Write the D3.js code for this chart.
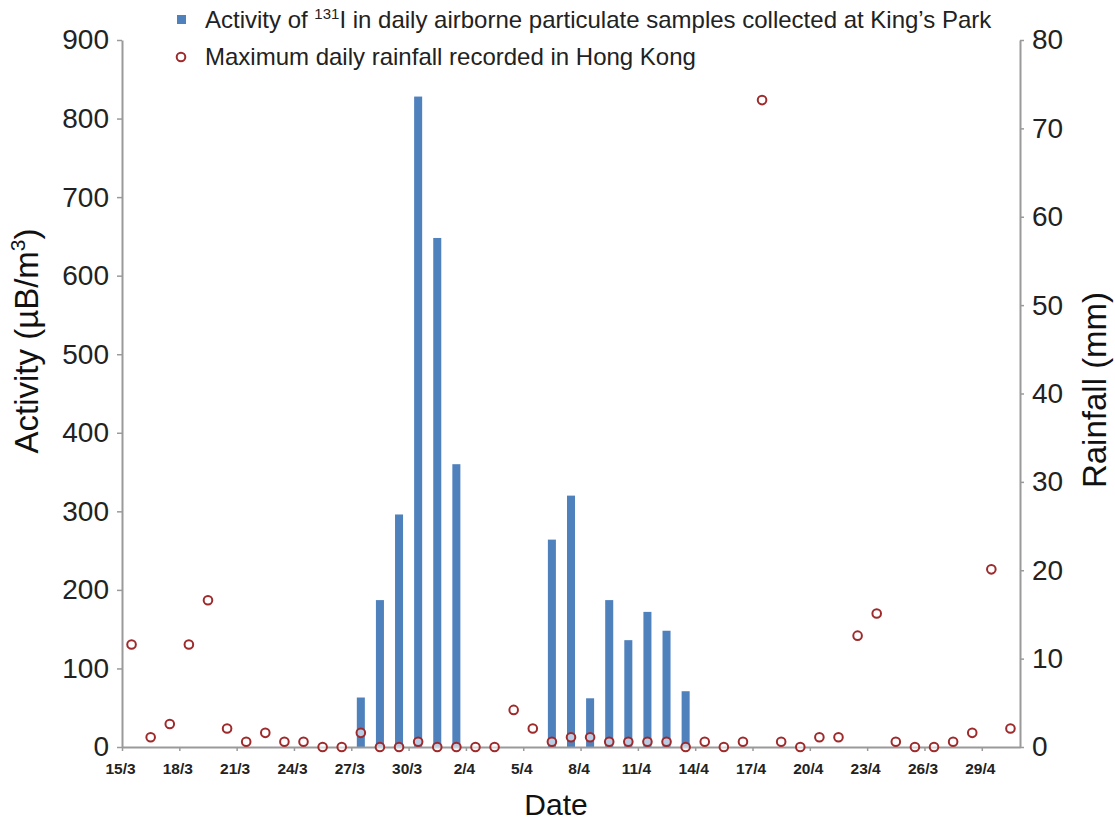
<!DOCTYPE html>
<html>
<head>
<meta charset="utf-8">
<script src="https://cdn.jsdelivr.net/npm/d3@7/dist/d3.min.js"></script>
<style>
  html, body { margin: 0; padding: 0; background: #fff; }
  svg { display: block; font-family: "Liberation Sans", Arial, sans-serif; }
</style>
</head>
<body>
<svg id="chart" width="1115" height="820"></svg>
<script>
// ---- data ----
const dates = ["15/3","16/3","17/3","18/3","19/3","20/3","21/3","22/3","23/3","24/3","25/3","26/3","27/3","28/3","29/3","30/3","31/3",
  "1/4","2/4","3/4","4/4","5/4","6/4","7/4","8/4","9/4","10/4","11/4","12/4","13/4","14/4","15/4","16/4","17/4","18/4","19/4","20/4",
  "21/4","22/4","23/4","24/4","25/4","26/4","27/4","28/4","29/4","30/4"];
const activity = [0,0,0,0,0,0,0,0,0,0,0,0,63,187,296,828,648,
  360,0,0,0,0,264,320,62,187,136,172,148,71,0,0,0,0,0,0,0,
  0,0,0,0,0,0,0,0,0,0];
const rainfall = [11.6,1.1,2.6,11.6,16.6,2.1,0.6,1.6,0.6,0.6,0,0,1.6,0,0,0.6,0,
  0,0,0,4.2,2.1,0.6,1.1,1.1,0.6,0.6,0.6,0.6,0,0.6,0,0.6,73.2,0.6,0,1.1,
  1.1,12.6,15.1,0.6,0,0,0.6,1.6,20.1,2.1];
const tickLabels = ["15/3","18/3","21/3","24/3","27/3","30/3","2/4","5/4","8/4","11/4","14/4","17/4","20/4","23/4","26/3","29/4"];
const leftTicks = [0,100,200,300,400,500,600,700,800,900];
const rightTicks = [0,10,20,30,40,50,60,70,80];

// ---- layout ----
const svg = d3.select("#chart");
const x0 = 122, x1 = 1020, yTop = 40, yBot = 747;
const axisColor = "#9a9a9a";
const barColor = "#4f81bd";
const dotColor = "#9e2a2b";
const ff = "Liberation Sans, Arial, sans-serif";

const x = d3.scaleBand().domain(dates).range([x0, x1]).paddingInner(0.58).paddingOuter(0.29);
const xIdx = d3.scaleLinear().domain([0, dates.length]).range([x0, x1]);
const yL = d3.scaleLinear().domain([0, 900]).range([yBot, yTop]);
const yR = d3.scaleLinear().domain([0, 80]).range([yBot, yTop]);

// bars
svg.append("g").selectAll("rect").data(dates.map((d, i) => ({d, v: activity[i]})).filter(o => o.v > 0))
  .join("rect")
  .attr("x", o => x(o.d))
  .attr("width", x.bandwidth())
  .attr("y", o => yL(o.v))
  .attr("height", o => yBot - yL(o.v))
  .attr("fill", barColor);

// left axis
const gL = svg.append("g").attr("transform", `translate(${x0},0)`)
  .call(d3.axisLeft(yL).tickValues(leftTicks).tickSize(5).tickSizeOuter(0).tickPadding(8));
gL.select(".domain").attr("stroke", axisColor).attr("stroke-width", 2);
gL.selectAll(".tick line").attr("stroke", axisColor).attr("stroke-width", 1.5);
gL.selectAll(".tick text").attr("font-size", 28).attr("fill", "#222").attr("font-family", ff);

// right axis
const gR = svg.append("g").attr("transform", `translate(${x1},0)`)
  .call(d3.axisRight(yR).tickValues(rightTicks).tickSize(4).tickSizeOuter(0).tickPadding(8));
gR.select(".domain").attr("stroke", axisColor).attr("stroke-width", 2);
gR.selectAll(".tick line").attr("stroke", axisColor).attr("stroke-width", 1.5);
gR.selectAll(".tick text").attr("font-size", 28).attr("fill", "#222").attr("font-family", ff);

// bottom axis
const gB = svg.append("g").attr("transform", `translate(0,${yBot})`)
  .call(d3.axisBottom(xIdx).tickValues(tickLabels.map((t, k) => k * 3)).tickFormat((v) => tickLabels[v / 3])
    .tickSize(4).tickSizeOuter(0).tickPadding(12));
gB.select(".domain").attr("stroke", axisColor).attr("stroke-width", 2);
gB.selectAll(".tick line").attr("stroke", axisColor).attr("stroke-width", 1.5);
gB.selectAll(".tick text").attr("font-size", 15.5).attr("font-weight", "bold").attr("fill", "#222")
  .attr("dx", -2).attr("font-family", ff);

// rainfall points
svg.append("g").selectAll("circle").data(dates.map((d, i) => ({d, v: rainfall[i]})))
  .join("circle")
  .attr("cx", o => x(o.d) + x.bandwidth() / 2)
  .attr("cy", o => yR(o.v))
  .attr("r", 4.3)
  .attr("fill", "#fff")
  .attr("fill-opacity", 0.6)
  .attr("stroke", dotColor)
  .attr("stroke-width", 2);

// axis titles
const tL = svg.append("text").attr("transform", "translate(38,341) rotate(-90)")
  .attr("text-anchor", "middle").attr("font-size", 33).attr("fill", "#111");
tL.append("tspan").text("Activity (µB/m");
tL.append("tspan").attr("font-size", 21).attr("dy", -13).text("3");
tL.append("tspan").attr("dy", 13).text(")");

svg.append("text").attr("transform", "translate(1106,390) rotate(-90)")
  .attr("text-anchor", "middle").attr("font-size", 33).attr("fill", "#111").text("Rainfall (mm)");

svg.append("text").attr("x", 556).attr("y", 815).attr("text-anchor", "middle")
  .attr("font-size", 30).attr("fill", "#111").text("Date");

// legend
svg.append("rect").attr("x", 177).attr("y", 15).attr("width", 9).attr("height", 9).attr("fill", barColor);
const lg1 = svg.append("text").attr("x", 205).attr("y", 28).attr("font-size", 24).attr("fill", "#222");
lg1.append("tspan").text("Activity of ");
lg1.append("tspan").attr("font-size", 15).attr("dy", -9).text("131");
lg1.append("tspan").attr("dy", 9).text("I in daily airborne particulate samples collected at King\u2019s Park");

svg.append("circle").attr("cx", 181).attr("cy", 57).attr("r", 4.3).attr("fill", "#fff")
  .attr("stroke", dotColor).attr("stroke-width", 2);
svg.append("text").attr("x", 205).attr("y", 65).attr("font-size", 24).attr("fill", "#222")
  .text("Maximum daily rainfall recorded in Hong Kong");
</script>
</body>
</html>
